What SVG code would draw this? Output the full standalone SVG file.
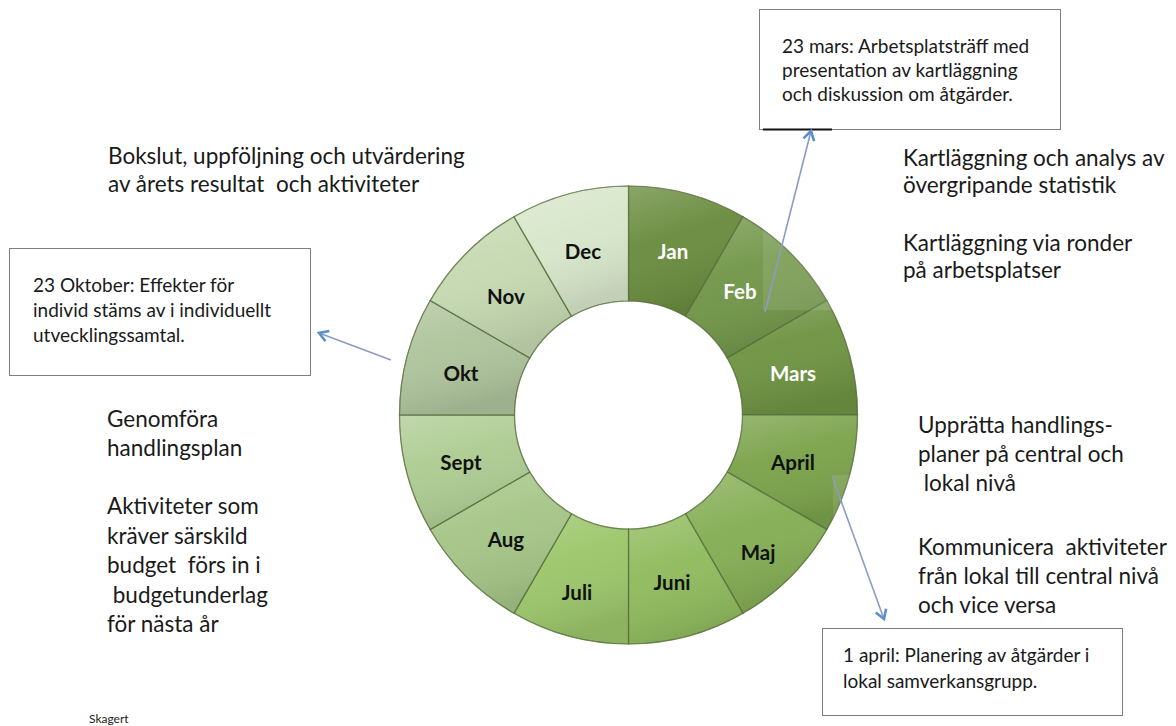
<svg xmlns="http://www.w3.org/2000/svg" width="1176" height="726" viewBox="0 0 1176 726">
<style>
.body{font-family:Lato,"Open Sans","Liberation Sans",sans-serif;font-size:22.5px;fill:#1a1a1a}
.box{font-family:Lato,"Open Sans","Liberation Sans",sans-serif;font-size:19px;fill:#1a1a1a}
.boxr{fill:#fff;stroke:#7f7f7f;stroke-width:1}
.seg{stroke:#56703c;stroke-opacity:0.6;stroke-width:1.2}
.lbl{font-family:Lato,"Open Sans","Liberation Sans",sans-serif;font-size:20.5px;font-weight:bold;text-anchor:middle}
.dk{fill:#111}
.wt{fill:#fff}
.conn{stroke:#8a9cc2;stroke-width:1.6;fill:none}
.shade{fill:url(#shade)}
</style>
<defs>
<linearGradient id="shade" x1="0" y1="0" x2="0.3" y2="1">
<stop offset="0" stop-color="#fff" stop-opacity="0.22"/>
<stop offset="0.45" stop-color="#fff" stop-opacity="0.03"/>
<stop offset="1" stop-color="#000" stop-opacity="0.1"/>
</linearGradient>
<marker id="arr" markerWidth="14" markerHeight="14" refX="11" refY="7" orient="auto" markerUnits="userSpaceOnUse">
<path d="M2,1.5 L11,7 L2,12.5" fill="none" stroke="#5b8fca" stroke-width="2.6" stroke-linejoin="miter"/>
</marker>
</defs>
<rect width="1176" height="726" fill="#fff"/>

<g id="ring">
<g id="seg-jan" fill="#6a8c3f"><path id="p1" class="seg" d="M628.5,186 A229,229 0 0 1 743,216.7 L685.5,316.3 A114,114 0 0 0 628.5,301 Z"/><use href="#p1" class="shade"/><text class="lbl wt" x="673" y="259">Jan</text></g>
<g id="seg-feb" fill="#72974a"><path id="p2" class="seg" d="M743,216.7 A229,229 0 0 1 826.8,300.5 L727.2,358 A114,114 0 0 0 685.5,316.3 Z"/><use href="#p2" class="shade"/><text class="lbl wt" x="740" y="299">Feb</text></g>
<g id="seg-mars" fill="#6f9443"><path id="p3" class="seg" d="M826.8,300.5 A229,229 0 0 1 857.5,415 L742.5,415 A114,114 0 0 0 727.2,358 Z"/><use href="#p3" class="shade"/><text class="lbl wt" x="793" y="381">Mars</text></g>
<g id="seg-april" fill="#7ba34b"><path id="p4" class="seg" d="M857.5,415 A229,229 0 0 1 826.8,529.5 L727.2,472 A114,114 0 0 0 742.5,415 Z"/><use href="#p4" class="shade"/><text class="lbl dk" x="793" y="470">April</text></g>
<g id="seg-maj" fill="#85ae55"><path id="p5" class="seg" d="M826.8,529.5 A229,229 0 0 1 743,613.3 L685.5,513.7 A114,114 0 0 0 727.2,472 Z"/><use href="#p5" class="shade"/><text class="lbl dk" x="758" y="560">Maj</text></g>
<g id="seg-juni" fill="#90bb5e"><path id="p6" class="seg" d="M743,613.3 A229,229 0 0 1 628.5,644 L628.5,529 A114,114 0 0 0 685.5,513.7 Z"/><use href="#p6" class="shade"/><text class="lbl dk" x="672" y="590">Juni</text></g>
<g id="seg-juli" fill="#9cc66b"><path id="p7" class="seg" d="M628.5,644 A229,229 0 0 1 514,613.3 L571.5,513.7 A114,114 0 0 0 628.5,529 Z"/><use href="#p7" class="shade"/><text class="lbl dk" x="577" y="600">Juli</text></g>
<g id="seg-aug" fill="#a6c688"><path id="p8" class="seg" d="M514,613.3 A229,229 0 0 1 430.2,529.5 L529.8,472 A114,114 0 0 0 571.5,513.7 Z"/><use href="#p8" class="shade"/><text class="lbl dk" x="506" y="547">Aug</text></g>
<g id="seg-sept" fill="#aecc93"><path id="p9" class="seg" d="M430.2,529.5 A229,229 0 0 1 399.5,415 L514.5,415 A114,114 0 0 0 529.8,472 Z"/><use href="#p9" class="shade"/><text class="lbl dk" x="461" y="470">Sept</text></g>
<g id="seg-okt" fill="#afc49d"><path id="p10" class="seg" d="M399.5,415 A229,229 0 0 1 430.2,300.5 L529.8,358 A114,114 0 0 0 514.5,415 Z"/><use href="#p10" class="shade"/><text class="lbl dk" x="461" y="381">Okt</text></g>
<g id="seg-nov" fill="#c5d9b1"><path id="p11" class="seg" d="M430.2,300.5 A229,229 0 0 1 514,216.7 L571.5,316.3 A114,114 0 0 0 529.8,358 Z"/><use href="#p11" class="shade"/><text class="lbl dk" x="506" y="304">Nov</text></g>
<g id="seg-dec" fill="#d8e7cb"><path id="p12" class="seg" d="M514,216.7 A229,229 0 0 1 628.5,186 L628.5,301 A114,114 0 0 0 571.5,316.3 Z"/><use href="#p12" class="shade"/><text class="lbl dk" x="583" y="259">Dec</text></g>
</g>

<rect x="763" y="130" width="69" height="180" fill="#fff" fill-opacity="0.1"/>
<rect x="833" y="475" width="65" height="152" fill="#fff" fill-opacity="0.1"/>

<g id="box-mars">
<rect class="boxr" x="759.5" y="9.5" width="301" height="120"/>
<line x1="763" y1="129.5" x2="832" y2="129.5" stroke="#111" stroke-width="2"/>
<text class="box" x="782" y="53">23 mars: Arbetsplatsträff med</text>
<text class="box" x="782" y="77">presentation av kartläggning</text>
<text class="box" x="782" y="101">och diskussion om åtgärder.</text>
</g>

<g id="box-okt">
<rect class="boxr" x="9.5" y="248.5" width="301" height="127"/>
<text class="box" x="33" y="292">23 Oktober: Effekter för</text>
<text class="box" x="33" y="317">individ stäms av i individuellt</text>
<text class="box" x="33" y="342">utvecklingssamtal.</text>
</g>

<g id="box-april">
<rect class="boxr" x="822.5" y="628.5" width="300" height="87"/>
<text class="box" x="843" y="662">1 april: Planering av åtgärder i</text>
<text class="box" x="843" y="688">lokal samverkansgrupp.</text>
</g>

<g id="text-bokslut">
<text class="body" x="108" y="164">Bokslut, uppföljning och utvärdering</text>
<text class="body" x="108" y="192" xml:space="preserve">av årets resultat  och aktiviteter</text>
</g>

<g id="text-kartlaggning">
<text class="body" x="903" y="166">Kartläggning och analys av</text>
<text class="body" x="903" y="193">övergripande statistik</text>
<text class="body" x="903" y="251">Kartläggning via ronder</text>
<text class="body" x="903" y="278">på arbetsplatser</text>
</g>

<g id="text-uppratta">
<text class="body" x="918" y="433">Upprätta handlings-</text>
<text class="body" x="918" y="462">planer på central och</text>
<text class="body" x="918" y="491" xml:space="preserve"> lokal nivå</text>
<text class="body" x="918" y="555" xml:space="preserve">Kommunicera  aktiviteter</text>
<text class="body" x="918" y="584">från lokal till central nivå</text>
<text class="body" x="918" y="613">och vice versa</text>
</g>

<g id="text-genomfora">
<text class="body" x="107" y="427">Genomföra</text>
<text class="body" x="107" y="456">handlingsplan</text>
<text class="body" x="107" y="514">Aktiviteter som</text>
<text class="body" x="107" y="544">kräver särskild</text>
<text class="body" x="107" y="573" xml:space="preserve">budget  förs in i</text>
<text class="body" x="107" y="603" xml:space="preserve"> budgetunderlag</text>
<text class="body" x="107" y="632">för nästa år</text>
</g>

<text x="89" y="723" font-family="Lato,'Open Sans','Liberation Sans',sans-serif" font-size="12" fill="#1a1a1a">Skagert</text>

<g id="connectors">
<line class="conn" x1="765" y1="312" x2="811" y2="131" marker-end="url(#arr)"/>
<line class="conn" x1="391" y1="360" x2="319" y2="333" marker-end="url(#arr)"/>
<line class="conn" x1="832" y1="476" x2="884" y2="619" marker-end="url(#arr)"/>
</g>
</svg>
